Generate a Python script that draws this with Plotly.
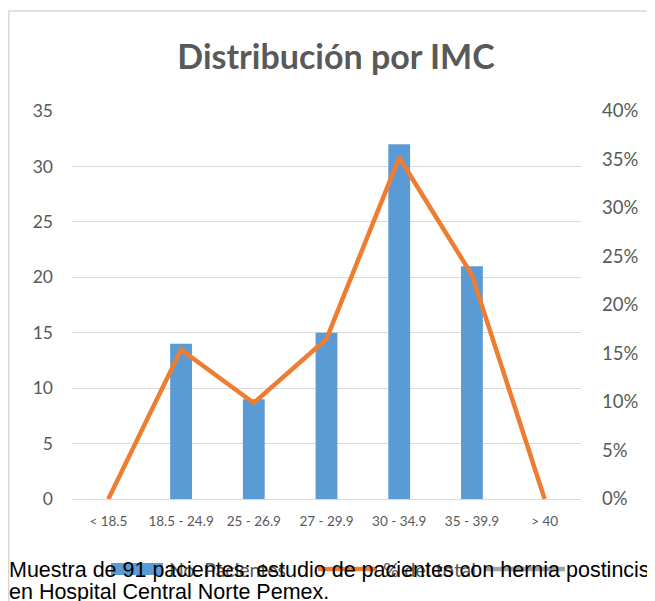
import plotly.graph_objects as go

categorias = ["< 18.5", "18.5 - 24.9", "25 - 26.9", "27 - 29.9", "30 - 34.9", "35 - 39.9", "> 40"]
pacientes = [0, 14, 9, 15, 32, 21, 0]
porcentaje = [0.0, 0.154, 0.099, 0.165, 0.352, 0.231, 0.0]

titulo = "Distribución por IMC"
nombre_barras = "No. Pacientes"
nombre_linea = "% del total"
nota_linea1 = "Muestra de 91 pacientes: estudio de pacientes con hernia postincisional"
nota_linea2 = "en Hospital Central Norte Pemex."

GRIS = "#595959"
AZUL = "#5b9bd5"
NARANJA = "#ed7d31"
FONT = "Lato"

# page body has an 8px margin: figure is placed at (8, 8) of the window
W, H = 647, 593
ML, MR, MT, MB = 64, 74, 103, 102
PW = W - ML - MR
PH = H - MT - MB


def px(xs):
    return (xs - 8 - ML) / PW


def py(ys):
    return (H - MB - (ys - 8)) / PH


fig = go.Figure()
fig.add_trace(go.Bar(
    x=categorias, y=pacientes, name=nombre_barras,
    marker=dict(color=AZUL, line=dict(width=0)), yaxis="y",
))
fig.add_trace(go.Scatter(
    x=categorias, y=porcentaje, name=nombre_linea, mode="lines",
    line=dict(color=NARANJA, width=4.5), yaxis="y2",
))

shapes = [
    dict(type="rect", xref="paper", yref="paper",
         x0=px(8.75), x1=px(800), y0=py(900), y1=py(11),
         line=dict(color="#d9d9d9", width=1.5), layer="below"),
    # legend keys
    dict(type="rect", xref="paper", yref="paper", x0=px(111), x1=px(163),
         y0=py(575), y1=py(563), fillcolor=AZUL, line=dict(width=0)),
    dict(type="line", xref="paper", yref="paper", x0=px(318), x1=px(377),
         y0=py(569), y1=py(569), line=dict(color=NARANJA, width=4.5)),
    dict(type="line", xref="paper", yref="paper", x0=px(484), x1=px(565),
         y0=py(569), y1=py(569), line=dict(color="#a5a5a5", width=4.5)),
]

annotations = [
    dict(text=nombre_barras, xref="paper", yref="paper", x=px(167), y=py(569),
         xanchor="left", yanchor="middle", showarrow=False,
         font=dict(family=FONT, size=19.5, color=GRIS)),
    dict(text=nombre_linea, xref="paper", yref="paper", x=px(381), y=py(569),
         xanchor="left", yanchor="middle", showarrow=False,
         font=dict(family=FONT, size=20, color=GRIS)),
    dict(text=nota_linea1, xref="paper", yref="paper", x=px(7), y=py(570),
         xanchor="left", yanchor="middle", align="left", showarrow=False,
         font=dict(family="Liberation Sans", size=21.5, color="black")),
    dict(text=nota_linea2, xref="paper", yref="paper", x=px(7), y=py(592),
         xanchor="left", yanchor="middle", align="left", showarrow=False,
         font=dict(family="Liberation Sans", size=21.5, color="black")),
]

fig.update_layout(
    width=W, height=H,
    margin=dict(l=ML, r=MR, t=MT, b=MB),
    paper_bgcolor="white", plot_bgcolor="white",
    bargap=0.7,
    showlegend=False,
    title=dict(text=titulo, x=px(336), xref="paper", y=1 - (57 - 8) / H, yanchor="middle",
               xanchor="center",
               font=dict(family=FONT, size=34, color=GRIS, weight="bold")),
    xaxis=dict(showgrid=False, showline=False, ticks="",
               tickfont=dict(family=FONT, size=13.5, color=GRIS), ticklabelstandoff=12),
    yaxis=dict(range=[0, 35], dtick=5, showgrid=True, gridcolor="#d9d9d9", gridwidth=1,
               zeroline=True, zerolinecolor="#d9d9d9", zerolinewidth=1,
               showline=False, ticks="",
               tickfont=dict(family=FONT, size=17.5, color=GRIS), ticklabelstandoff=18),
    yaxis2=dict(range=[0, 0.4], dtick=0.05, tickformat=".0%", overlaying="y", side="right",
                showgrid=False, zeroline=False, showline=False, ticks="",
                tickfont=dict(family=FONT, size=18.5, color=GRIS), ticklabelstandoff=20),
    shapes=shapes,
    annotations=annotations,
)

fig.write_html("out.html")
